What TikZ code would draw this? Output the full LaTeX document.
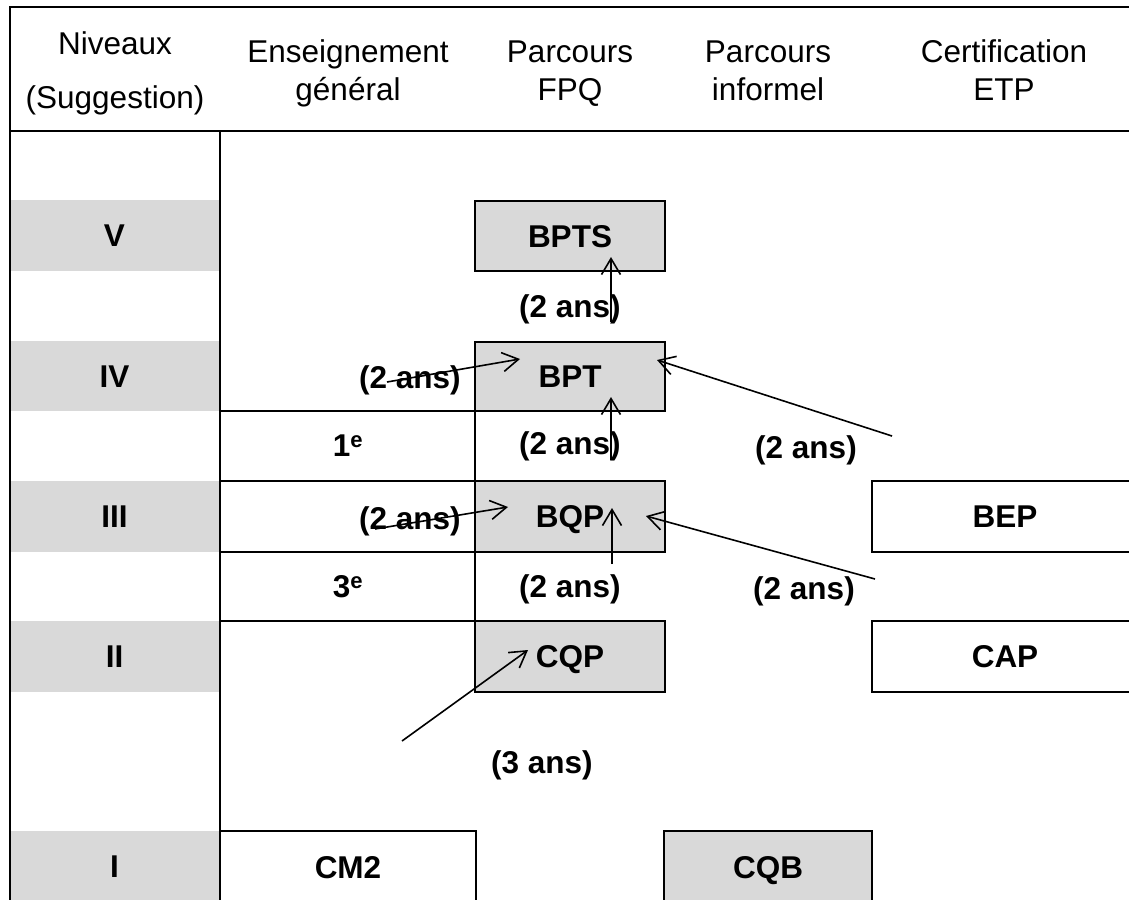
\documentclass[tikz,border=0pt]{standalone}
\usepackage{fontspec}
\setmainfont{Liberation Sans}
\usetikzlibrary{arrows.meta}
\definecolor{cellgray}{HTML}{D9D9D9}
\begin{document}
\begin{tikzpicture}[x=1pt,y=-1pt,
  rule/.style={line width=2.5pt},
  hdr/.style={font=\fontsize{31.5}{37}\selectfont, inner sep=0pt, anchor=base},
  lbl/.style={font=\fontsize{31.5}{37}\selectfont\bfseries, inner sep=0pt},
  band/.style={fill=cellgray, minimum width=209pt, inner sep=0pt, outer sep=0pt, anchor=north west, text height=22.6pt, text depth=0pt, font=\fontsize{31.5}{37}\selectfont\bfseries},
  cell/.style={draw, line width=2.5pt, inner sep=0pt, outer sep=0pt, anchor=north west, text height=22.6pt, text depth=0pt, font=\fontsize{31.5}{37}\selectfont\bfseries},
  greycell/.style={cell, fill=cellgray},
  flow/.style={line width=1.6pt, -{Straight Barb[length=16pt,width=19pt,line width=1.6pt]}}
]
\clip (0,0) rectangle (1129,899);
\fill[white] (0,0) rectangle (1129,899);

% level bands
\node[band, minimum height=71pt] (lvV) at (10,200) {V};
\node[band, minimum height=70pt] (lvIV) at (10,341) {IV};
\node[band, minimum height=71pt] (lvIII) at (10,481) {III};
\node[band, minimum height=71pt] (lvII) at (10,621) {II};
\node[band, minimum height=70pt] (lvI) at (10,831) {I};

% frame
\draw[rule] (1140,7) -- (10,7) -- (10,910);
\draw[rule] (10,131) -- (1140,131);
\draw[rule] (220,131) -- (220,910);
\draw[rule] (220,411) -- (475,411);
\draw[rule] (220,481) -- (475,481);
\draw[rule] (220,552) -- (475,552);
\draw[rule] (220,621) -- (475,621);
\draw[rule] (475,411) -- (475,692);

% header
\node[hdr] (h1a) at (115,55) {Niveaux};
\node[hdr] (h1b) at (115,108) {(Suggestion)};
\node[hdr] (h2a) at (348,63) {Enseignement};
\node[hdr] (h2b) at (348,100) {général};
\node[hdr] (h3a) at (570,63) {Parcours};
\node[hdr] (h3b) at (570,100) {FPQ};
\node[hdr] (h4a) at (768,63) {Parcours};
\node[hdr] (h4b) at (768,100) {informel};
\node[hdr] (h5a) at (1004,63) {Certification};
\node[hdr] (h5b) at (1004,100) {ETP};

% boxes
\node[greycell, minimum width=190pt, minimum height=70pt] (BPTS) at (475,201) {BPTS};
\node[greycell, minimum width=190pt, minimum height=69pt] (BPT) at (475,342) {BPT};
\node[greycell, minimum width=190pt, minimum height=71pt] (BQP) at (475,481) {BQP};
\node[greycell, minimum width=190pt, minimum height=71pt] (CQP) at (475,621) {CQP};
\node[cell, minimum width=266pt, minimum height=71pt] (BEP) at (872,481) {BEP};
\node[cell, minimum width=266pt, minimum height=71pt] (CAP) at (872,621) {CAP};
\node[cell, minimum width=256pt, minimum height=72pt] (CM2) at (220,831) {CM2};
\node[greycell, minimum width=208pt, minimum height=72pt] (CQB) at (664,831) {CQB};

% class labels
\node[lbl] (c1) at (348,446) {1\textsuperscript{e}};
\node[lbl] (c3) at (348,587) {3\textsuperscript{e}};

% duration labels
\node[lbl] (d1) at (570,309) {(2 ans)};
\node[lbl] (d2) at (410,380) {(2 ans)};
\node[lbl] (d3) at (570,446) {(2 ans)};
\node[lbl] (d4) at (806,450) {(2 ans)};
\node[lbl] (d5) at (410,521) {(2 ans)};
\node[lbl] (d6) at (570,589) {(2 ans)};
\node[lbl] (d7) at (804,591) {(2 ans)};
\node[lbl] (d8) at (542,765) {(3 ans)};

% arrows
\coordinate (t1) at (611,322); \coordinate (e1) at (611,257);
\coordinate (t2) at (611,460); \coordinate (e2) at (611,397);
\coordinate (t3) at (612,564); \coordinate (e3) at (612,508);
\coordinate (t4) at (387,382); \coordinate (e4) at (520,359);
\coordinate (t5) at (375,529); \coordinate (e5) at (508,507);
\coordinate (t6) at (892,436); \coordinate (e6) at (657,360);
\coordinate (t7) at (875,579); \coordinate (e7) at (646,516);
\coordinate (t8) at (402,741); \coordinate (e8) at (528,650);
\draw[flow] (t1) -- (e1);
\draw[flow] (t2) -- (e2);
\draw[flow] (t3) -- (e3);
\draw[flow] (t4) -- (e4);
\draw[flow] (t5) -- (e5);
\draw[flow] (t6) -- (e6);
\draw[flow] (t7) -- (e7);
\draw[flow] (t8) -- (e8);
\end{tikzpicture}
\end{document}
